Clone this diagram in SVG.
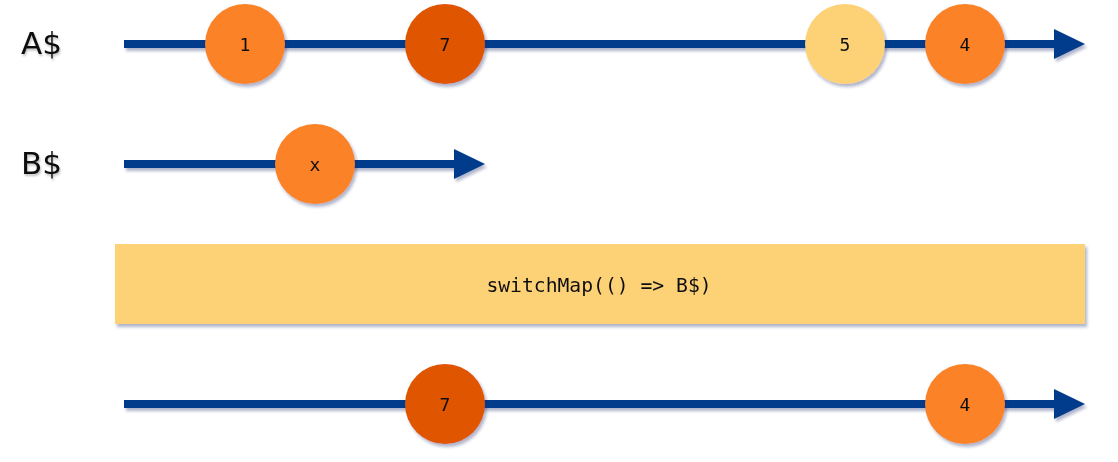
<svg xmlns="http://www.w3.org/2000/svg" width="1118" height="462" viewBox="0 0 1118 462">
<defs>
<filter id="sh" x="-10%" y="-30%" width="120%" height="160%">
<feDropShadow dx="2" dy="3" stdDeviation="1.5" flood-color="#1a2a6a" flood-opacity="0.35"/>
</filter>
<filter id="tsh" x="-20%" y="-20%" width="140%" height="140%">
<feDropShadow dx="1" dy="2" stdDeviation="1" flood-color="#000" flood-opacity="0.25"/>
</filter>
</defs>
<style>
.line{stroke:#003a8c;stroke-width:8;fill:none}
.head{fill:#003a8c}
.c1{fill:#fb8225}
.c2{fill:#e05500}
.c3{fill:#fdd276}
.lbl{font-family:"DejaVu Sans",sans-serif;font-size:31px;fill:#111}
.v{font-family:"DejaVu Sans Mono","Liberation Mono",monospace;font-size:18px;fill:#111;text-anchor:middle}
.op{font-family:"DejaVu Sans Mono","Liberation Mono",monospace;font-size:19.7px;fill:#111;text-anchor:middle}
</style>
<rect width="1118" height="462" fill="#fff"/>
<g id="labels" filter="url(#tsh)">
<text class="lbl" x="21" y="54">A$</text>
<text class="lbl" x="21" y="174">B$</text>
</g>
<g id="connectors" filter="url(#sh)">
<line class="line" x1="124" y1="44" x2="1058" y2="44"/>
<polygon class="head" points="1054,29 1085,44 1054,59"/>
<line class="line" x1="124" y1="164" x2="458" y2="164"/>
<polygon class="head" points="454,149 485,164 454,179"/>
<line class="line" x1="124" y1="404" x2="1058" y2="404"/>
<polygon class="head" points="1054,389 1085,404 1054,419"/>
</g>
<g id="a1" filter="url(#sh)"><circle class="c1" cx="245" cy="44" r="40"/><text class="v" x="245" y="51">1</text></g>
<g id="a7" filter="url(#sh)"><circle class="c2" cx="445" cy="44" r="40"/><text class="v" x="445" y="51">7</text></g>
<g id="a5" filter="url(#sh)"><circle class="c3" cx="845" cy="44" r="40"/><text class="v" x="845" y="51">5</text></g>
<g id="a4" filter="url(#sh)"><circle class="c1" cx="965" cy="44" r="40"/><text class="v" x="965" y="51">4</text></g>
<g id="bx" filter="url(#sh)"><circle class="c1" cx="315" cy="164" r="40"/><text class="v" x="315" y="171">x</text></g>
<g id="operator" filter="url(#sh)"><rect class="c3" x="115" y="244" width="970" height="80"/><text class="op" x="599" y="292">switchMap(() =&gt; B$)</text></g>
<g id="o7" filter="url(#sh)"><circle class="c2" cx="445" cy="404" r="40"/><text class="v" x="445" y="411">7</text></g>
<g id="o4" filter="url(#sh)"><circle class="c1" cx="965" cy="404" r="40"/><text class="v" x="965" y="411">4</text></g>
</svg>
